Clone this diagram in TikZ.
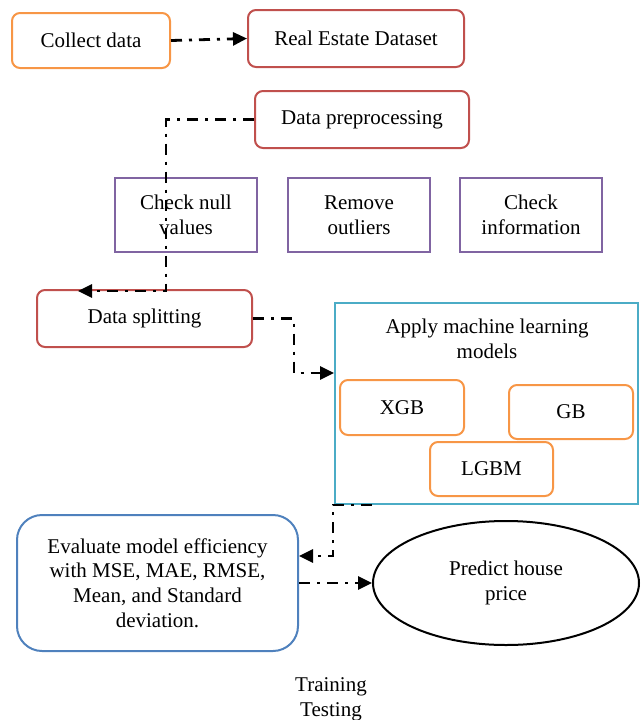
\documentclass[tikz,border=0pt]{standalone}
\usepackage{fontspec}
\setmainfont{Liberation Serif}
\usetikzlibrary{arrows.meta,shapes.geometric}
\definecolor{boxorange}{HTML}{F79646}
\definecolor{boxred}{HTML}{C0504D}
\definecolor{boxpurple}{HTML}{8064A2}
\definecolor{boxteal}{HTML}{4BACC6}
\definecolor{boxblue}{HTML}{4F81BD}
\begin{document}
\begin{tikzpicture}[x=1pt,y=-1pt,
  every node/.style={font=\fontsize{21}{24.7}\selectfont, align=center, inner sep=0pt},
  roundbox/.style={draw, line width=2pt, rounded corners=8pt},
  checkbox/.style={draw=boxpurple, line width=2pt, minimum width=142pt, minimum height=74pt},
  flow/.style={line width=2.8pt, dash pattern=on 11pt off 7pt on 3pt off 7pt, -{Triangle[length=14pt,width=13pt]}}]
\useasboundingbox (0,0) rectangle (643,720);
% top row
\node[roundbox, draw=boxorange, minimum width=158pt, minimum height=55pt] (collect) at (91,40.5) {Collect data};
\node[roundbox, draw=boxred, minimum width=216pt, minimum height=57pt] (dataset) at (356,38.5) {Real Estate Dataset};
\node[roundbox, draw=boxred, minimum width=214pt, minimum height=57pt] (prep) at (362,119.5) {Data preprocessing};
% preprocessing steps
\node[checkbox] (nullval) at (186,215) {Check null\\values};
\node[checkbox] (outliers) at (359,215) {Remove\\outliers};
\node[checkbox] (info) at (531,215) {Check\\information};
\node[roundbox, draw=boxred, minimum width=215pt, minimum height=57pt] (split) at (144.5,318.5) {Data splitting};
% models
\node[draw=boxteal, line width=2pt, minimum width=303pt, minimum height=201pt] (ml) at (486.5,403.5) {};
\node (mltitle) at (487,339) {Apply machine learning\\models};
\node[roundbox, draw=boxorange, minimum width=124pt, minimum height=55pt] (xgb) at (402,407.5) {XGB};
\node[roundbox, draw=boxorange, minimum width=124pt, minimum height=54pt] (gb) at (571,412) {GB};
\node[roundbox, draw=boxorange, minimum width=123pt, minimum height=54pt] (lgbm) at (491.5,469) {LGBM};
% evaluation
\node[roundbox, draw=boxblue, rounded corners=25pt, minimum width=281pt, minimum height=136pt] (eval) at (157.5,583) {Evaluate model efficiency\\with MSE, MAE, RMSE,\\Mean, and Standard\\deviation.};
\node[ellipse, draw, line width=2pt, minimum width=266pt, minimum height=124pt] (pred) at (506,583) {Predict house\\price};
\node (legend) at (331,699) {Training\\Testing};
% connectors
\coordinate (bend1) at (166,291);
\coordinate (splitin) at (78,291);
\coordinate (bend2) at (294,373);
\coordinate (mlout) at (372,505);
\coordinate (bend3) at (333,556);
\draw[flow] (collect.east) -- (dataset.west);
\draw[flow] (prep.west) -| (bend1) -- (splitin);
\draw[flow] (split.east) -| (bend2) -- (bend2 -| ml.west);
\draw[flow] (mlout) -| (bend3) -- (bend3 -| eval.east);
\draw[flow] (eval.east |- pred.west) -- (pred.west);
\end{tikzpicture}
\end{document}
